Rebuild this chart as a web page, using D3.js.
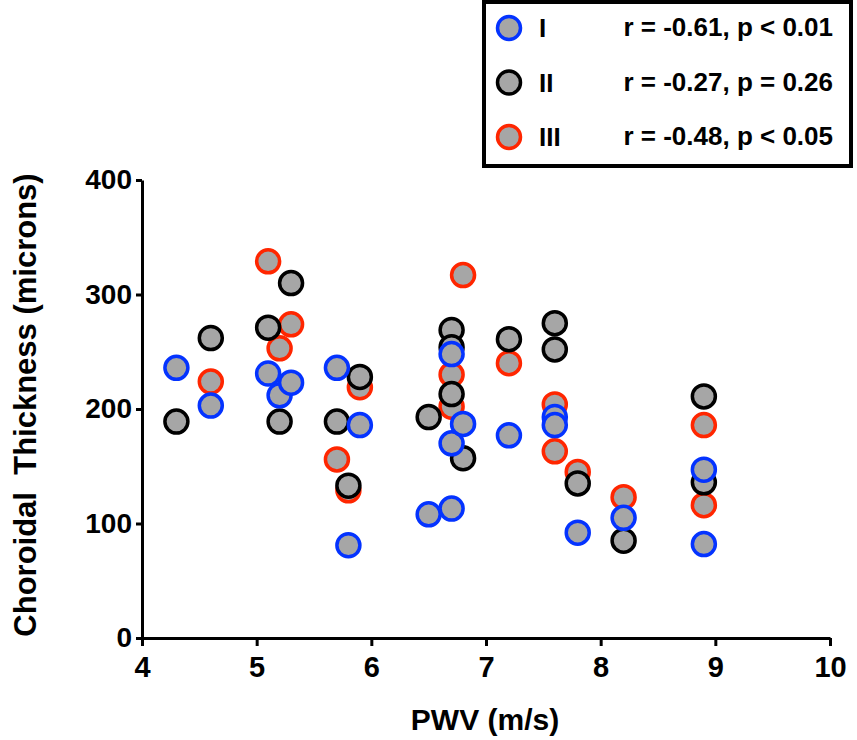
<!DOCTYPE html>
<html>
<head>
<meta charset="utf-8">
<script src="https://cdn.jsdelivr.net/npm/d3@7"></script>
<style>
  body { margin: 0; background: #fff; }
  svg { display: block; font-family: "Liberation Sans", Arial, sans-serif; font-weight: bold; }
</style>
</head>
<body>
<div id="chart"></div>
<script>
// group I (blue)
var pwvI = [4.3, 4.6, 5.1, 5.2, 5.3, 5.7, 5.8, 5.9, 6.5, 6.7, 6.7, 6.7, 6.8, 7.2, 7.6, 7.6, 7.8, 8.2, 8.9, 8.9];
var ctI  = [236, 203, 231, 212, 223, 236, 81, 186, 108, 248, 170, 113, 187, 177, 193, 186, 92, 105, 147, 82];
// group II (black)
var pwvII = [4.3, 4.6, 5.1, 5.2, 5.3, 5.7, 5.8, 5.9, 6.5, 6.7, 6.7, 6.7, 6.8, 7.2, 7.6, 7.6, 7.8, 8.2, 8.9, 8.9];
var ctII  = [189, 262, 271, 189, 310, 189, 133, 228, 193, 269, 254, 213, 157, 261, 275, 252, 135, 85, 211, 136];
// group III (red)
var pwvIII = [4.6, 5.1, 5.2, 5.3, 5.7, 5.8, 5.9, 6.7, 6.7, 6.8, 7.2, 7.6, 7.6, 7.8, 8.2, 8.9, 8.9];
var ctIII  = [224, 329, 253, 274, 156, 129, 219, 230, 202, 317, 240, 204, 163, 145, 123, 186, 116];

var groupNames = ["I", "II", "III"];
var groupStats = ["r = -0.61, p < 0.01", "r = -0.27, p = 0.26", "r = -0.48, p < 0.05"];
var groupColors = ["#0433ff", "#000000", "#ff2600"];

var xTicks = [4, 5, 6, 7, 8, 9, 10];
var yTicks = [0, 100, 200, 300, 400];

var width = 857, height = 740;
var svg = d3.select("#chart").append("svg")
    .attr("width", width)
    .attr("height", height);

var x = d3.scaleLinear().domain([4, 10]).range([142, 830]);
var y = d3.scaleLinear().domain([0, 400]).range([638, 180]);

// axes
var xAxis = svg.append("g")
    .attr("transform", "translate(0," + y(0) + ")")
    .call(d3.axisBottom(x).tickValues(xTicks).tickSize(8).tickSizeOuter(0).tickPadding(10).tickFormat(d3.format("d")));
var yAxis = svg.append("g")
    .attr("transform", "translate(" + x(4) + ",0)")
    .call(d3.axisLeft(y).tickValues(yTicks).tickSize(6).tickSizeOuter(0).tickPadding(4));

[xAxis, yAxis].forEach(function(a) {
    a.select(".domain").attr("stroke", "#000").attr("stroke-width", 3);
    a.selectAll(".tick line").attr("stroke", "#000").attr("stroke-width", 3);
    a.selectAll(".tick text").attr("fill", "#000").attr("font-family", "Liberation Sans, Arial, sans-serif").attr("font-weight", "bold");
});
xAxis.selectAll(".tick text").attr("font-size", 29);
yAxis.selectAll(".tick text").attr("font-size", 28);

// axis titles
svg.append("text")
    .attr("x", 485)
    .attr("y", 730)
    .attr("text-anchor", "middle")
    .attr("font-size", 30)
    .text("PWV (m/s)");

svg.append("text")
    .attr("transform", "translate(36,405) rotate(-90)")
    .attr("text-anchor", "middle")
    .attr("font-size", 31)
    .style("white-space", "pre")
    .text("Choroidal  Thickness (microns)");

// points: red first, then black, blue on top
var series = [
    {xs: pwvIII, ys: ctIII, color: groupColors[2]},
    {xs: pwvII, ys: ctII, color: groupColors[1]},
    {xs: pwvI, ys: ctI, color: groupColors[0]}
];

series.forEach(function(s) {
    svg.append("g").selectAll("circle")
        .data(d3.zip(s.xs, s.ys))
        .enter()
        .append("circle")
        .attr("cx", function(d) { return x(d[0]); })
        .attr("cy", function(d) { return y(d[1]); })
        .attr("r", 11.5)
        .attr("fill", "#a6a6a6")
        .attr("stroke", s.color)
        .attr("stroke-width", 3.5);
});

// legend
var lg = svg.append("g").attr("class", "legend");
lg.append("rect")
    .attr("x", 484).attr("y", 2)
    .attr("width", 367).attr("height", 164)
    .attr("fill", "#fff")
    .attr("stroke", "#000")
    .attr("stroke-width", 4);

var rows = lg.selectAll("g.row")
    .data(groupNames)
    .enter()
    .append("g")
    .attr("class", "row")
    .attr("transform", function(d, i) { return "translate(0," + (28 + i * 54.5) + ")"; });

rows.append("circle")
    .attr("cx", 509).attr("cy", 0)
    .attr("r", 11.5)
    .attr("fill", "#a6a6a6")
    .attr("stroke", function(d, i) { return groupColors[i]; })
    .attr("stroke-width", 3.5);

rows.append("text")
    .attr("x", 539).attr("y", 9)
    .attr("font-size", 26)
    .text(function(d) { return d; });

rows.append("text")
    .attr("x", 833).attr("y", 8)
    .attr("text-anchor", "end")
    .attr("font-size", 26)
    .text(function(d, i) { return groupStats[i]; });
</script>
</body>
</html>
